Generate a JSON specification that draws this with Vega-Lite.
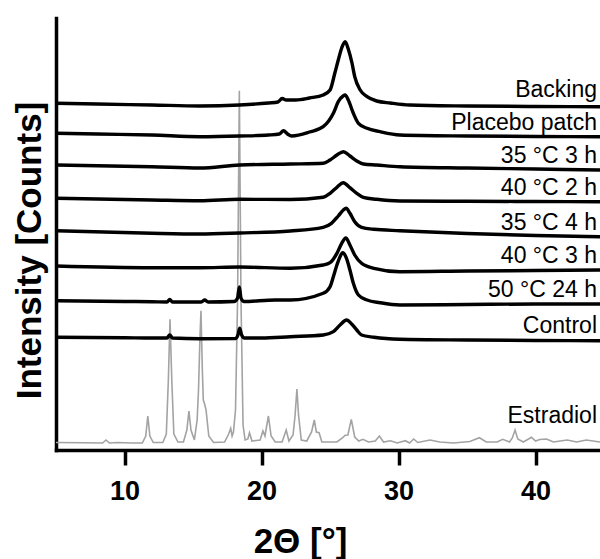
{
  "$schema": "https://vega.github.io/schema/vega-lite/v6.json",
  "width": 544,
  "height": 432,
  "autosize": {"type": "none"},
  "padding": {"left": 56, "top": 18, "right": 0, "bottom": 109},
  "background": "white",
  "config": {
    "view": {"stroke": null},
    "font": "Liberation Sans"
  },
  "datasets": {
    "xrd": [
      {"s": "Estradiol", "t": 5, "v": 7.5}, {"s": "Estradiol", "t": 7, "v": 7.3}, {"s": "Estradiol", "t": 8.4, "v": 7}, {"s": "Estradiol", "t": 8.65, "v": 10}, {"s": "Estradiol", "t": 8.9, "v": 7}, {"s": "Estradiol", "t": 9.5, "v": 7.5}, {"s": "Estradiol", "t": 10.5, "v": 7}, {"s": "Estradiol", "t": 11.3, "v": 7}, {"s": "Estradiol", "t": 11.55, "v": 14}, {"s": "Estradiol", "t": 11.7, "v": 34}, {"s": "Estradiol", "t": 11.85, "v": 14}, {"s": "Estradiol", "t": 12.1, "v": 7.5}, {"s": "Estradiol", "t": 12.8, "v": 7.5}, {"s": "Estradiol", "t": 13.05, "v": 16}, {"s": "Estradiol", "t": 13.2, "v": 70}, {"s": "Estradiol", "t": 13.32, "v": 130.7}, {"s": "Estradiol", "t": 13.45, "v": 70}, {"s": "Estradiol", "t": 13.6, "v": 16}, {"s": "Estradiol", "t": 13.9, "v": 8}, {"s": "Estradiol", "t": 14.3, "v": 8}, {"s": "Estradiol", "t": 14.55, "v": 20}, {"s": "Estradiol", "t": 14.7, "v": 39}, {"s": "Estradiol", "t": 14.85, "v": 20}, {"s": "Estradiol", "t": 15.1, "v": 10}, {"s": "Estradiol", "t": 15.3, "v": 30}, {"s": "Estradiol", "t": 15.4, "v": 60}, {"s": "Estradiol", "t": 15.5, "v": 110}, {"s": "Estradiol", "t": 15.58, "v": 139.3}, {"s": "Estradiol", "t": 15.68, "v": 80}, {"s": "Estradiol", "t": 15.75, "v": 50}, {"s": "Estradiol", "t": 15.83, "v": 46.7}, {"s": "Estradiol", "t": 15.95, "v": 40}, {"s": "Estradiol", "t": 16.15, "v": 14}, {"s": "Estradiol", "t": 16.5, "v": 7.5}, {"s": "Estradiol", "t": 17.3, "v": 8}, {"s": "Estradiol", "t": 17.6, "v": 16}, {"s": "Estradiol", "t": 17.75, "v": 21.7}, {"s": "Estradiol", "t": 17.85, "v": 14}, {"s": "Estradiol", "t": 17.95, "v": 18}, {"s": "Estradiol", "t": 18.1, "v": 40}, {"s": "Estradiol", "t": 18.25, "v": 150}, {"s": "Estradiol", "t": 18.38, "v": 359.3}, {"s": "Estradiol", "t": 18.5, "v": 150}, {"s": "Estradiol", "t": 18.65, "v": 25}, {"s": "Estradiol", "t": 18.8, "v": 10}, {"s": "Estradiol", "t": 19.0, "v": 11}, {"s": "Estradiol", "t": 19.12, "v": 17.3}, {"s": "Estradiol", "t": 19.3, "v": 9}, {"s": "Estradiol", "t": 19.9, "v": 10}, {"s": "Estradiol", "t": 20.1, "v": 19}, {"s": "Estradiol", "t": 20.25, "v": 14}, {"s": "Estradiol", "t": 20.5, "v": 34}, {"s": "Estradiol", "t": 20.7, "v": 14}, {"s": "Estradiol", "t": 21.0, "v": 8}, {"s": "Estradiol", "t": 21.5, "v": 8}, {"s": "Estradiol", "t": 21.8, "v": 20}, {"s": "Estradiol", "t": 22.0, "v": 9}, {"s": "Estradiol", "t": 22.3, "v": 15}, {"s": "Estradiol", "t": 22.45, "v": 35}, {"s": "Estradiol", "t": 22.58, "v": 61}, {"s": "Estradiol", "t": 22.7, "v": 35}, {"s": "Estradiol", "t": 22.9, "v": 10}, {"s": "Estradiol", "t": 23.3, "v": 9}, {"s": "Estradiol", "t": 23.65, "v": 18}, {"s": "Estradiol", "t": 23.85, "v": 30}, {"s": "Estradiol", "t": 24.0, "v": 18}, {"s": "Estradiol", "t": 24.2, "v": 17.3}, {"s": "Estradiol", "t": 24.4, "v": 8}, {"s": "Estradiol", "t": 25.5, "v": 8}, {"s": "Estradiol", "t": 25.9, "v": 12}, {"s": "Estradiol", "t": 26.1, "v": 14.7}, {"s": "Estradiol", "t": 26.3, "v": 15}, {"s": "Estradiol", "t": 26.55, "v": 30.7}, {"s": "Estradiol", "t": 26.8, "v": 13}, {"s": "Estradiol", "t": 27.1, "v": 9}, {"s": "Estradiol", "t": 27.4, "v": 10.7}, {"s": "Estradiol", "t": 27.8, "v": 8}, {"s": "Estradiol", "t": 28.3, "v": 9}, {"s": "Estradiol", "t": 28.6, "v": 14}, {"s": "Estradiol", "t": 28.9, "v": 8}, {"s": "Estradiol", "t": 29.4, "v": 9.3}, {"s": "Estradiol", "t": 29.9, "v": 7}, {"s": "Estradiol", "t": 30.5, "v": 9.3}, {"s": "Estradiol", "t": 30.8, "v": 7}, {"s": "Estradiol", "t": 31.1, "v": 11}, {"s": "Estradiol", "t": 31.4, "v": 7.5}, {"s": "Estradiol", "t": 32.3, "v": 10}, {"s": "Estradiol", "t": 33, "v": 8}, {"s": "Estradiol", "t": 34, "v": 7}, {"s": "Estradiol", "t": 35.2, "v": 8.5}, {"s": "Estradiol", "t": 35.9, "v": 12.3}, {"s": "Estradiol", "t": 36.4, "v": 8}, {"s": "Estradiol", "t": 37.2, "v": 8}, {"s": "Estradiol", "t": 37.6, "v": 10.7}, {"s": "Estradiol", "t": 38.1, "v": 8}, {"s": "Estradiol", "t": 38.3, "v": 12}, {"s": "Estradiol", "t": 38.5, "v": 20}, {"s": "Estradiol", "t": 38.7, "v": 11}, {"s": "Estradiol", "t": 39.1, "v": 8}, {"s": "Estradiol", "t": 39.7, "v": 12.7}, {"s": "Estradiol", "t": 40.0, "v": 9}, {"s": "Estradiol", "t": 40.3, "v": 10.5}, {"s": "Estradiol", "t": 40.8, "v": 11}, {"s": "Estradiol", "t": 41.3, "v": 8}, {"s": "Estradiol", "t": 42.3, "v": 10}, {"s": "Estradiol", "t": 43, "v": 8}, {"s": "Estradiol", "t": 43.7, "v": 10}, {"s": "Estradiol", "t": 44.7, "v": 8},

      {"s": "Backing", "t": 5, "v": 346.7}, {"s": "Backing", "t": 8, "v": 346}, {"s": "Backing", "t": 12, "v": 345}, {"s": "Backing", "t": 15.5, "v": 344}, {"s": "Backing", "t": 18.4, "v": 345}, {"s": "Backing", "t": 20.5, "v": 347}, {"s": "Backing", "t": 21.2, "v": 348}, {"s": "Backing", "t": 21.5, "v": 351.5}, {"s": "Backing", "t": 21.8, "v": 350}, {"s": "Backing", "t": 22.5, "v": 350}, {"s": "Backing", "t": 23.5, "v": 352}, {"s": "Backing", "t": 24.5, "v": 355}, {"s": "Backing", "t": 25.0, "v": 360}, {"s": "Backing", "t": 25.35, "v": 377}, {"s": "Backing", "t": 25.6, "v": 390}, {"s": "Backing", "t": 25.85, "v": 402}, {"s": "Backing", "t": 26.1, "v": 408.3}, {"s": "Backing", "t": 26.35, "v": 400}, {"s": "Backing", "t": 26.6, "v": 387}, {"s": "Backing", "t": 26.8, "v": 373.3}, {"s": "Backing", "t": 27.2, "v": 360}, {"s": "Backing", "t": 27.7, "v": 353.3}, {"s": "Backing", "t": 28.4, "v": 349}, {"s": "Backing", "t": 29.4, "v": 347}, {"s": "Backing", "t": 30.8, "v": 345}, {"s": "Backing", "t": 35, "v": 344}, {"s": "Backing", "t": 40, "v": 343.5}, {"s": "Backing", "t": 44.7, "v": 343.3},

      {"s": "Placebo", "t": 5, "v": 316.7}, {"s": "Placebo", "t": 8, "v": 316}, {"s": "Placebo", "t": 12, "v": 315}, {"s": "Placebo", "t": 15.5, "v": 313.3}, {"s": "Placebo", "t": 18.4, "v": 314}, {"s": "Placebo", "t": 20.5, "v": 315}, {"s": "Placebo", "t": 21.3, "v": 316}, {"s": "Placebo", "t": 21.6, "v": 319.3}, {"s": "Placebo", "t": 21.9, "v": 316}, {"s": "Placebo", "t": 22.2, "v": 314}, {"s": "Placebo", "t": 23.5, "v": 318}, {"s": "Placebo", "t": 24.5, "v": 323.3}, {"s": "Placebo", "t": 25.25, "v": 337}, {"s": "Placebo", "t": 25.6, "v": 348.3}, {"s": "Placebo", "t": 25.95, "v": 354}, {"s": "Placebo", "t": 26.1, "v": 355}, {"s": "Placebo", "t": 26.33, "v": 350}, {"s": "Placebo", "t": 26.7, "v": 336.7}, {"s": "Placebo", "t": 27.07, "v": 326.7}, {"s": "Placebo", "t": 27.7, "v": 321.7}, {"s": "Placebo", "t": 28.65, "v": 318.3}, {"s": "Placebo", "t": 30.1, "v": 315}, {"s": "Placebo", "t": 35, "v": 314}, {"s": "Placebo", "t": 40, "v": 313.5}, {"s": "Placebo", "t": 44.7, "v": 313.3},

      {"s": "35C3h", "t": 5, "v": 285}, {"s": "35C3h", "t": 12, "v": 283.3}, {"s": "35C3h", "t": 15.5, "v": 282}, {"s": "35C3h", "t": 18.4, "v": 285}, {"s": "35C3h", "t": 22.1, "v": 286}, {"s": "35C3h", "t": 24.5, "v": 286.7}, {"s": "35C3h", "t": 25.0, "v": 290}, {"s": "35C3h", "t": 25.5, "v": 295}, {"s": "35C3h", "t": 25.97, "v": 298.3}, {"s": "35C3h", "t": 26.45, "v": 294}, {"s": "35C3h", "t": 26.95, "v": 289}, {"s": "35C3h", "t": 27.43, "v": 286}, {"s": "35C3h", "t": 28.4, "v": 285}, {"s": "35C3h", "t": 30.1, "v": 283.3}, {"s": "35C3h", "t": 35, "v": 282}, {"s": "35C3h", "t": 40, "v": 281}, {"s": "35C3h", "t": 44.7, "v": 280},

      {"s": "40C2h", "t": 5, "v": 251.7}, {"s": "40C2h", "t": 12, "v": 250}, {"s": "40C2h", "t": 15.5, "v": 249.3}, {"s": "40C2h", "t": 18.4, "v": 250.7}, {"s": "40C2h", "t": 22.1, "v": 250.5}, {"s": "40C2h", "t": 24.5, "v": 252.7}, {"s": "40C2h", "t": 25.0, "v": 256.7}, {"s": "40C2h", "t": 25.5, "v": 262.7}, {"s": "40C2h", "t": 25.97, "v": 267.3}, {"s": "40C2h", "t": 26.45, "v": 262.3}, {"s": "40C2h", "t": 26.95, "v": 256.7}, {"s": "40C2h", "t": 27.43, "v": 252.7}, {"s": "40C2h", "t": 28.4, "v": 250.7}, {"s": "40C2h", "t": 30.1, "v": 249}, {"s": "40C2h", "t": 35, "v": 248.7}, {"s": "40C2h", "t": 40, "v": 248.5}, {"s": "40C2h", "t": 44.7, "v": 248.3},

      {"s": "35C4h", "t": 5, "v": 219.3}, {"s": "35C4h", "t": 12, "v": 216.7}, {"s": "35C4h", "t": 15.5, "v": 216}, {"s": "35C4h", "t": 18.4, "v": 217}, {"s": "35C4h", "t": 22.1, "v": 219}, {"s": "35C4h", "t": 24.5, "v": 222.7}, {"s": "35C4h", "t": 25.1, "v": 226.7}, {"s": "35C4h", "t": 25.6, "v": 234}, {"s": "35C4h", "t": 25.97, "v": 240}, {"s": "35C4h", "t": 26.17, "v": 241.7}, {"s": "35C4h", "t": 26.45, "v": 236.7}, {"s": "35C4h", "t": 26.8, "v": 228.3}, {"s": "35C4h", "t": 27.3, "v": 222.7}, {"s": "35C4h", "t": 28.2, "v": 220.7}, {"s": "35C4h", "t": 30.1, "v": 219.3}, {"s": "35C4h", "t": 35, "v": 216.5}, {"s": "35C4h", "t": 40, "v": 214.5}, {"s": "35C4h", "t": 44.7, "v": 213.3},

      {"s": "40C3h", "t": 5, "v": 184}, {"s": "40C3h", "t": 12, "v": 182.3}, {"s": "40C3h", "t": 15.5, "v": 182.3}, {"s": "40C3h", "t": 18.4, "v": 183}, {"s": "40C3h", "t": 22.1, "v": 181.7}, {"s": "40C3h", "t": 24.5, "v": 185}, {"s": "40C3h", "t": 25.0, "v": 187.3}, {"s": "40C3h", "t": 25.5, "v": 196.7}, {"s": "40C3h", "t": 25.85, "v": 206.7}, {"s": "40C3h", "t": 26.15, "v": 212}, {"s": "40C3h", "t": 26.45, "v": 205}, {"s": "40C3h", "t": 26.8, "v": 195}, {"s": "40C3h", "t": 27.3, "v": 186.7}, {"s": "40C3h", "t": 28.2, "v": 181.7}, {"s": "40C3h", "t": 30.1, "v": 178.3}, {"s": "40C3h", "t": 35, "v": 179}, {"s": "40C3h", "t": 40, "v": 179.5}, {"s": "40C3h", "t": 44.7, "v": 180},

      {"s": "50C24h", "t": 5, "v": 149.3}, {"s": "50C24h", "t": 10, "v": 148.5}, {"s": "50C24h", "t": 12, "v": 148.3}, {"s": "50C24h", "t": 13.1, "v": 148}, {"s": "50C24h", "t": 13.3, "v": 150.5}, {"s": "50C24h", "t": 13.5, "v": 148}, {"s": "50C24h", "t": 15.6, "v": 148}, {"s": "50C24h", "t": 15.85, "v": 150}, {"s": "50C24h", "t": 16.1, "v": 148}, {"s": "50C24h", "t": 18.0, "v": 148.5}, {"s": "50C24h", "t": 18.25, "v": 152}, {"s": "50C24h", "t": 18.38, "v": 163}, {"s": "50C24h", "t": 18.5, "v": 152}, {"s": "50C24h", "t": 18.7, "v": 148.5}, {"s": "50C24h", "t": 21, "v": 150}, {"s": "50C24h", "t": 22.1, "v": 150}, {"s": "50C24h", "t": 24.5, "v": 156.7}, {"s": "50C24h", "t": 25.0, "v": 163.3}, {"s": "50C24h", "t": 25.24, "v": 173.3}, {"s": "50C24h", "t": 25.5, "v": 185}, {"s": "50C24h", "t": 25.73, "v": 193.3}, {"s": "50C24h", "t": 25.92, "v": 197.3}, {"s": "50C24h", "t": 26.2, "v": 191.7}, {"s": "50C24h", "t": 26.45, "v": 180}, {"s": "50C24h", "t": 26.7, "v": 166.7}, {"s": "50C24h", "t": 27.07, "v": 155}, {"s": "50C24h", "t": 27.7, "v": 150}, {"s": "50C24h", "t": 28.65, "v": 147.3}, {"s": "50C24h", "t": 30.1, "v": 145}, {"s": "50C24h", "t": 35, "v": 145.5}, {"s": "50C24h", "t": 40, "v": 146}, {"s": "50C24h", "t": 44.7, "v": 146},

      {"s": "Control", "t": 5, "v": 112.7}, {"s": "Control", "t": 10, "v": 112.3}, {"s": "Control", "t": 12, "v": 112}, {"s": "Control", "t": 13.1, "v": 112}, {"s": "Control", "t": 13.3, "v": 115}, {"s": "Control", "t": 13.5, "v": 112}, {"s": "Control", "t": 15.5, "v": 111.3}, {"s": "Control", "t": 18.1, "v": 111.5}, {"s": "Control", "t": 18.3, "v": 116}, {"s": "Control", "t": 18.4, "v": 121.7}, {"s": "Control", "t": 18.55, "v": 115}, {"s": "Control", "t": 18.75, "v": 112}, {"s": "Control", "t": 20, "v": 112}, {"s": "Control", "t": 22.1, "v": 113.3}, {"s": "Control", "t": 24.5, "v": 115}, {"s": "Control", "t": 25.24, "v": 118.3}, {"s": "Control", "t": 25.73, "v": 125}, {"s": "Control", "t": 26.2, "v": 130}, {"s": "Control", "t": 26.58, "v": 126}, {"s": "Control", "t": 26.95, "v": 120}, {"s": "Control", "t": 27.3, "v": 115}, {"s": "Control", "t": 28.2, "v": 112.7}, {"s": "Control", "t": 30.1, "v": 110.7}, {"s": "Control", "t": 35, "v": 110}, {"s": "Control", "t": 40, "v": 109.5}, {"s": "Control", "t": 44.7, "v": 109.3}
    ],
    "labels": [
      {"label": "Backing", "t": 44.7, "v": 353},
      {"label": "Placebo patch", "t": 44.7, "v": 320},
      {"label": "35 °C 3 h", "t": 44.7, "v": 287},
      {"label": "40 °C 2 h", "t": 44.7, "v": 255},
      {"label": "35 °C 4 h", "t": 44.7, "v": 220},
      {"label": "40 °C 3 h", "t": 44.7, "v": 187},
      {"label": "50 °C 24 h", "t": 44.7, "v": 153},
      {"label": "Control", "t": 44.7, "v": 117},
      {"label": "Estradiol", "t": 44.7, "v": 27}
    ]
  },
  "encoding": {
    "x": {
      "field": "t", "type": "quantitative",
      "scale": {"domain": [5, 44.7], "nice": false, "zero": false},
      "axis": {
        "values": [10, 20, 30, 40],
        "grid": false,
        "domainColor": "black", "domainWidth": 3.5, "domainCap": "square",
        "tickColor": "black", "tickWidth": 3.5, "tickSize": 15,
        "labelFont": "Liberation Sans", "labelFontWeight": "bold", "labelFontSize": 27, "labelColor": "black", "labelPadding": 13,
        "title": "2Θ [°]",
        "titleFont": "Liberation Sans", "titleFontWeight": "bold", "titleFontSize": 35, "titleColor": "black",
        "titleX": 244, "titleY": 102, "titleBaseline": "alphabetic", "titleAlign": "center"
      }
    },
    "y": {
      "field": "v", "type": "quantitative",
      "scale": {"domain": [0, 432], "nice": false, "zero": false},
      "axis": {
        "ticks": false, "labels": false, "grid": false,
        "domainColor": "black", "domainWidth": 3.5, "domainCap": "square",
        "title": "Intensity [Counts]",
        "titleFont": "Liberation Sans", "titleFontWeight": "bold", "titleFontSize": 35, "titleColor": "black",
        "titleAngle": 270, "titleX": -16, "titleY": 232, "titleBaseline": "alphabetic", "titleAlign": "center"
      }
    }
  },
  "layer": [
    {
      "data": {"name": "xrd"},
      "transform": [{"filter": "datum.s === 'Estradiol'"}],
      "mark": {"type": "line", "color": "#a3a3a3", "strokeWidth": 1.6, "clip": true}
    },
    {
      "data": {"name": "xrd"},
      "transform": [{"filter": "datum.s !== 'Estradiol'"}],
      "mark": {"type": "line", "color": "black", "strokeWidth": 3.4, "interpolate": "monotone", "clip": true},
      "encoding": {"detail": {"field": "s"}}
    },
    {
      "data": {"name": "labels"},
      "mark": {"type": "text", "align": "right", "baseline": "alphabetic", "dx": -3, "font": "Liberation Sans", "fontSize": 23, "color": "black"},
      "encoding": {"text": {"field": "label"}}
    }
  ]
}
